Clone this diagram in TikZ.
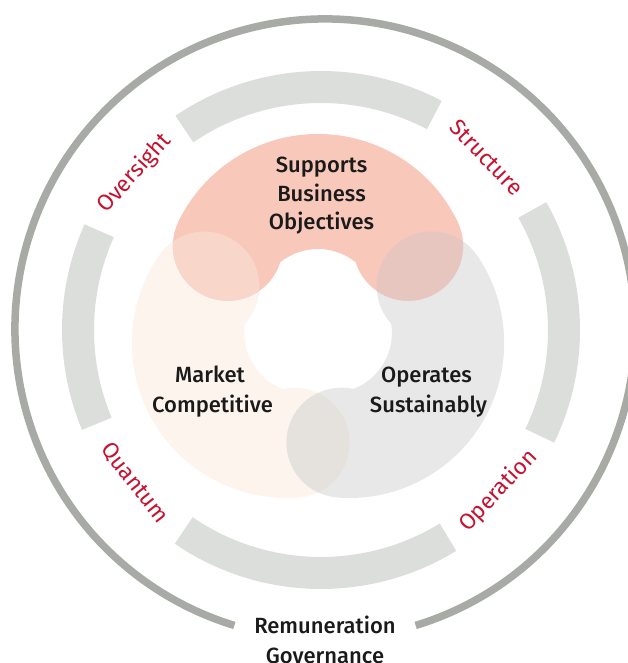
\documentclass[tikz,border=0pt]{standalone}
\usepackage{fontspec}
\setmainfont{Liberation Sans}
\newfontfamily\medfont{Fira Sans}[UprightFont=* Medium]
\newfontfamily\labfont{Fira Sans}
\definecolor{ringgray}{HTML}{A8AAA5}
\definecolor{bandgray}{HTML}{DCDEDC}
\definecolor{pinkc}{HTML}{F8C8BA}
\definecolor{beigec}{HTML}{FCF4ED}
\definecolor{grayc}{HTML}{E7E8E7}
\definecolor{pinkbeige}{HTML}{F8D6C9}
\definecolor{pinkgray}{HTML}{E7C6BF}
\definecolor{beigegray}{HTML}{E5E1DC}
\definecolor{textblack}{HTML}{1A1A1A}
\definecolor{labelred}{HTML}{C8102E}
\newcommand\lobe[3]{#1[#2, shift={(318,338)}, rotate=#3]
  ([shift={(0,36)}]25.6:155)
  arc[start angle=25.6, end angle=154.4, radius=155]
  arc[start angle=154.4, end angle=342.52, radius=55]
  arc[start angle=128.92, end angle=51.08, radius=60]
  arc[start angle=197.48, end angle=385.6, radius=55] -- cycle;}
\tikzset{
  outerring/.style={draw=ringgray, line width=7.5pt},
  bandarc/.style={draw=bandgray, line width=32pt},
  maintext/.style={font=\medfont\fontsize{22}{26}\selectfont, text=textblack, inner sep=0pt, anchor=base},
  redlabel/.style={font=\labfont\fontsize{22.5}{26}\selectfont, text=labelred, inner sep=0pt, anchor=center}
}
\begin{document}
\begin{tikzpicture}[x=1pt,y=1pt]
\useasboundingbox (0,0) rectangle (627,663);
% outer ring
\coordinate (ringc) at (325,334);
\draw[outerring] (ringc) ++(-73:310) arc[start angle=-73, end angle=253, radius=310];
% band segments
\coordinate (bandc) at (321,333);
\foreach \a/\b in {-25.8/29.6, 62.2/124.2, 155.9/202.7, 235.6/301.5}
  \draw[bandarc] (bandc) ++(\a:243) arc[start angle=\a, end angle=\b, radius=243];
% lobes
\lobe{\fill}{fill=beigec}{120}
\lobe{\fill}{fill=grayc}{240}
\lobe{\fill}{fill=pinkc}{0}
\begin{scope}\lobe{\clip}{}{0}\lobe{\fill}{fill=pinkbeige}{120}\end{scope}
\begin{scope}\lobe{\clip}{}{0}\lobe{\fill}{fill=pinkgray}{240}\end{scope}
\begin{scope}\lobe{\clip}{}{120}\lobe{\fill}{fill=beigegray}{240}\end{scope}
% centre texts
\node[maintext] (sup1) at (321.5,490) {Supports};
\node[maintext] (sup2) at (321.5,461) {Business};
\node[maintext] (sup3) at (321.5,433) {Objectives};
\node[maintext] (mkt1) at (210,280) {Market};
\node[maintext] (mkt2) at (212.5,250) {Competitive};
\node[maintext] (ops1) at (426.5,280) {Operates};
\node[maintext] (ops2) at (428.5,250) {Sustainably};
\node[maintext] (rem1) at (325,29) {Remuneration};
\node[maintext] (rem2) at (325,-1) {Governance};
% red labels
\node[redlabel, rotate=48] (oversight) at (134.5,489.5) {Oversight};
\node[redlabel, rotate=-46] (structure) at (486.5,505.5) {Structure};
\node[redlabel, rotate=-52] (quantum) at (134.5,180) {Quantum};
\node[redlabel, rotate=47] (operation) at (498.5,172) {Operation};
\end{tikzpicture}
\end{document}
